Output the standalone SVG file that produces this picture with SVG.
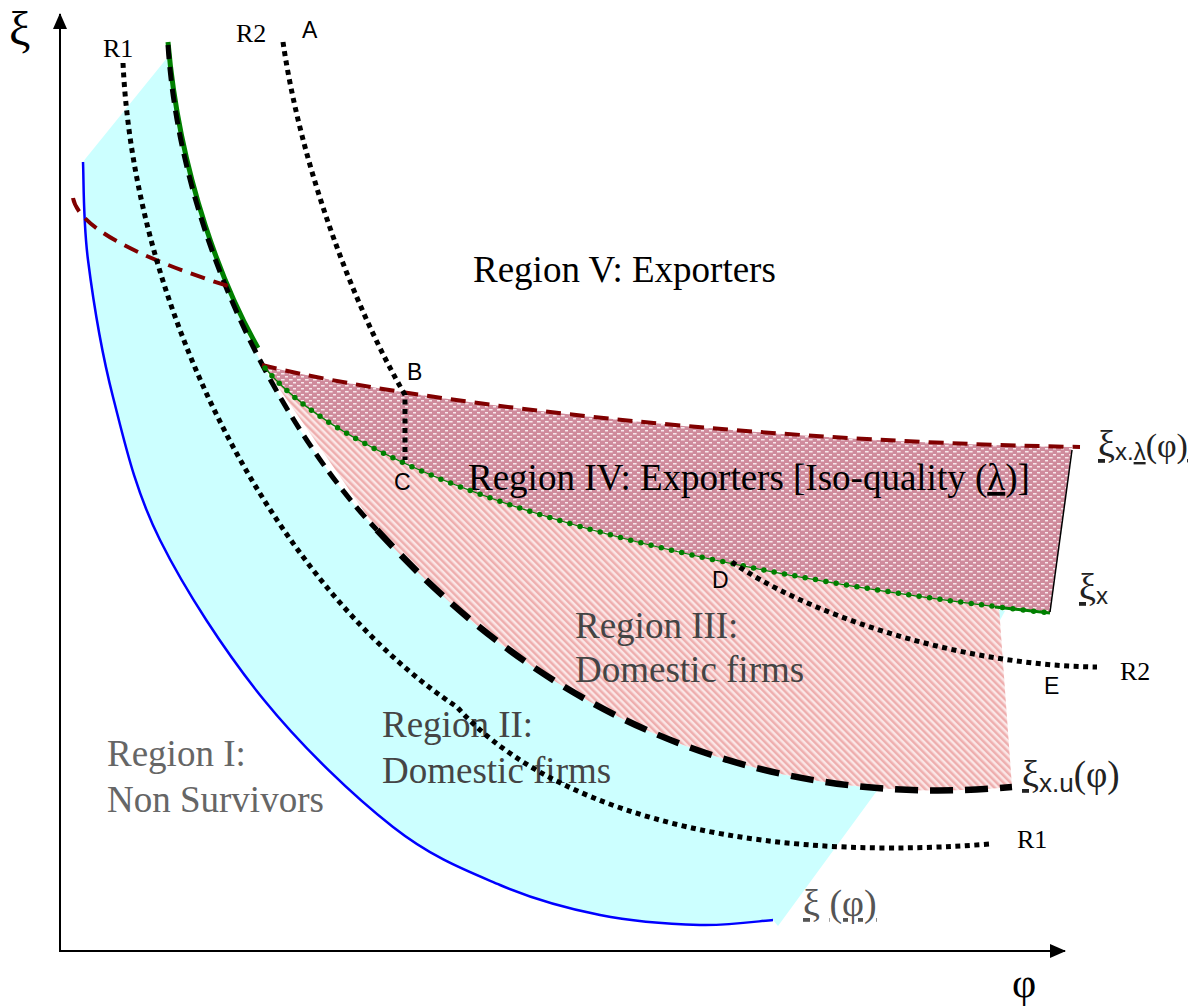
<svg xmlns="http://www.w3.org/2000/svg" width="1204" height="1008" viewBox="0 0 1204 1008">
<defs>
<pattern id="hatch" width="5" height="5" patternUnits="userSpaceOnUse" patternTransform="rotate(-45)">
<rect width="5" height="5" fill="#fbe6e6"/>
<rect width="2.5" height="5" fill="#eeaeae"/>
</pattern>
<pattern id="dots" width="8" height="6" patternUnits="userSpaceOnUse">
<rect width="8" height="6" fill="#cf8b9c"/>
<rect x="1" y="1" width="3.6" height="1.5" fill="#f8e8ec"/>
<rect x="5" y="4" width="3.6" height="1.5" fill="#f8e8ec"/>
</pattern>
<marker id="arr" viewBox="0 0 16 14" refX="15" refY="7" markerWidth="16" markerHeight="14" markerUnits="userSpaceOnUse" orient="auto">
<path d="M0,0 L16,7 L0,14 Z" fill="#000"/>
</marker>
<style>
.reg{font-family:"Liberation Serif","Times New Roman",serif;font-size:37px}
.pt{font-family:"Liberation Sans",Arial,sans-serif;font-size:23px;fill:#000}
.rl{font-family:"Liberation Serif","Times New Roman",serif;font-size:26px;fill:#000}
.ser{font-family:"Liberation Serif","Times New Roman",serif}
.san{font-family:"Liberation Sans",Arial,sans-serif}
.dot{fill:none;stroke:#000;stroke-width:5;stroke-dasharray:5 4.5}
.red{fill:none;stroke:#800000;stroke-width:4;stroke-dasharray:15 9}
.bd{fill:none;stroke:#000}
</style>
</defs>

<g id="regions">
<path id="region2-fill" fill="#ccffff" d="M167,58 L86,158 L83,162 C83.8,178.3 83,220.8 88,260 C93,299.2 101,350.3 113,397 C125,443.7 134.8,489.5 160,540 C185.2,590.5 225.2,652.2 264,700 C302.8,747.8 353.7,796.2 393,827 C432.3,857.8 465.5,870.3 500,885 C534.5,899.7 566.7,908.3 600,915 C633.3,921.7 671.2,924.2 700,925 C728.8,925.8 760.8,920.8 773,920 L778,926 L878.8,788.2 C599.5,766.5 437.9,595.25 377,530 C300,450 182,260 168,45 Z"/>
<path fill="#ccffff" d="M996,609 L1005,611 L999,622 Z"/>
<path id="region3-fill" fill="url(#hatch)" d="M265,368 C346.6,465.9 598.7,557.4 999,607 L1012,787 C650,820 447,605 377,530 Z"/>
<path id="region4-fill" fill="url(#dots)" d="M262,365 C380,395 700,440 1072,447 L1050,613 C620,565 350,470 265,368 Z"/>
</g>

<g id="region-labels">
<text class="reg" x="473" y="282" fill="#000">Region V: Exporters</text>
<text class="reg" x="468" y="490" fill="#000">Region IV: Exporters [Iso-quality (<tspan text-decoration="underline">λ</tspan>)]</text>
<text class="reg" fill="#444"><tspan x="575" y="638">Region III:</tspan><tspan x="575" y="682">Domestic firms</tspan></text>
<text class="reg" fill="#454545"><tspan x="382" y="737">Region II:</tspan><tspan x="382" y="783">Domestic firms</tspan></text>
<text class="reg" fill="#666"><tspan x="107" y="766">Region I:</tspan><tspan x="107" y="812">Non Survivors</tspan></text>
</g>

<g id="connectors">
<path id="xi-phi" fill="none" stroke="#0000ff" stroke-width="2.5" d="M83,162 C83.8,178.3 83,220.8 88,260 C93,299.2 101,350.3 113,397 C125,443.7 134.8,489.5 160,540 C185.2,590.5 225.2,652.2 264,700 C302.8,747.8 353.7,796.2 393,827 C432.3,857.8 465.5,870.3 500,885 C534.5,899.7 566.7,908.3 600,915 C633.3,921.7 671.2,924.2 700,925 C728.8,925.8 760.8,920.8 773,920"/>
<path fill="none" stroke="#008000" stroke-width="5" d="M168,42 C180,180 225,290 258,348"/>
<path class="bd" stroke-width="5" stroke-dasharray="14 8" d="M168,45 C182,260 300,450 377,530"/>
<path class="bd" stroke-width="6.5" stroke-dasharray="23 12" d="M377,530 C447,605 650,820 1012,787"/>
<path class="red" d="M73,198 C78,225 130,255 228,286"/>
<path class="red" d="M262,365 C380,395 700,440 1080,447"/>
<path fill="none" stroke="#008000" stroke-width="1.2" d="M265,368 C350,470 620,565 1050,613"/>
<path fill="none" stroke="#008000" stroke-width="5.5" stroke-linecap="round" stroke-dasharray="0 10.5" d="M265,368 C350,470 620,565 1050,613"/>
<path fill="none" stroke="#008000" stroke-width="3" d="M995,607 L1050,613"/>
<path class="dot" d="M123,63 C135,320 280,590 457,707 C540,800 720,865 990,844"/>
<path class="dot" d="M283,42 C300,160 350,300 405,395 L405,460"/>
<path class="dot" d="M732,562 C800,610 950,665 1097,667"/>
<line x1="1072" y1="450" x2="1050" y2="612" stroke="#000" stroke-width="1.5"/>
<line x1="60" y1="952" x2="60" y2="14" stroke="#000" stroke-width="2" marker-end="url(#arr)"/>
<line x1="59" y1="951" x2="1065" y2="951" stroke="#000" stroke-width="2" marker-end="url(#arr)"/>
</g>

<g id="point-labels">
<text class="pt" x="302" y="38">A</text>
<text class="pt" x="407" y="380">B</text>
<text class="pt" x="394" y="490">C</text>
<text class="pt" x="712" y="588">D</text>
<text class="pt" x="1044" y="694">E</text>
<text class="rl" x="103" y="57">R1</text>
<text class="rl" x="236" y="42">R2</text>
<text class="rl" x="1120" y="680">R2</text>
<text class="rl" x="1017" y="848" font-size="24">R1</text>
</g>

<g id="curve-labels" fill="#222">
<text x="9" y="45" class="ser" font-size="48" fill="#000">ξ</text>
<text x="1012" y="997" class="ser" font-size="42" fill="#000">φ</text>
<text x="1098" y="457"><tspan class="ser" font-size="38" text-decoration="underline">ξ</tspan><tspan class="san" font-size="24" dy="3">x.</tspan><tspan class="san" font-size="24" text-decoration="underline">λ</tspan><tspan class="ser" font-size="34" dy="-3">(φ</tspan><tspan class="ser" font-size="34" text-decoration="underline">)</tspan></text>
<text x="1079" y="600"><tspan class="ser" font-size="38" text-decoration="underline">ξ</tspan><tspan class="san" font-size="24" dy="4">x</tspan></text>
<text x="1022" y="787"><tspan class="ser" font-size="38" text-decoration="underline">ξ</tspan><tspan class="san" font-size="26" dy="5">x.u</tspan><tspan class="ser" font-size="37" dy="-5">(φ)</tspan></text>
<text x="803" y="916" fill="#555"><tspan class="ser" font-size="38" text-decoration="underline">ξ</tspan><tspan class="ser" font-size="38"> </tspan><tspan class="ser" font-size="38" text-decoration="underline">(φ)</tspan></text>
</g>
</svg>
